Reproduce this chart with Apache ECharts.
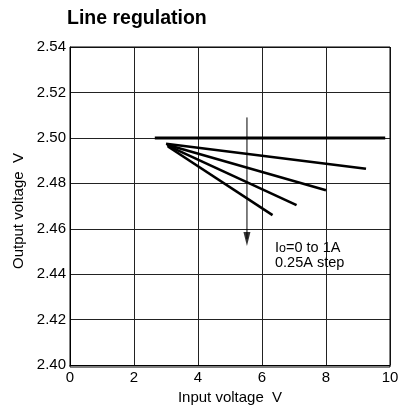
<!DOCTYPE html>
<html>
<head>
<meta charset="utf-8">
<script src="https://cdn.jsdelivr.net/npm/echarts@6/dist/echarts.min.js"></script>
<style>
  html, body { margin: 0; padding: 0; background: #fff; }
  #chart { width: 407px; height: 410px; }
</style>
</head>
<body>
<div id="chart"></div>
<script>
// Axis ticks
const xTicks = [0, 2, 4, 6, 8, 10];
const yTicks = [2.40, 2.42, 2.44, 2.46, 2.48, 2.50, 2.52, 2.54];

// Output voltage vs. input voltage, Io = 0 A (flat) and 0.25 A .. 1 A steps
const curveIo0    = [[2.65, 2.500], [9.85, 2.500]];
const curveIo025  = [[3.00, 2.4974], [9.25, 2.4864]];
const curveIo050  = [[3.03, 2.4970], [8.00, 2.4769]];
const curveIo075  = [[3.05, 2.4966], [7.08, 2.4704]];
const curveIo100  = [[3.06, 2.4962], [6.33, 2.4660]];

// Arrow showing increasing load current: shaft top, arrowhead centre
const arrowX = [5.53];
const arrowY = [2.509, 2.4555];

const FONT = 'Liberation Sans, Arial, sans-serif';
const chart = echarts.init(document.getElementById('chart'), null, { renderer: 'canvas' });

const lineSeries = (data, width) => ({
  type: 'line',
  data: data,
  symbol: 'none',
  silent: true,
  lineStyle: { color: '#000', width: width },
  z: 5
});

chart.setOption({
  animation: false,
  backgroundColor: '#fff',
  title: {
    text: 'Line regulation',
    left: 62,
    top: 4,
    textStyle: { fontFamily: FONT, fontSize: 19.5, fontWeight: 'bold', color: '#000' }
  },
  grid: { left: 70, top: 47, width: 320, height: 320, show: false },
  xAxis: {
    type: 'value',
    min: xTicks[0],
    max: xTicks[xTicks.length - 1],
    interval: xTicks[1] - xTicks[0],
    name: 'Input voltage  V',
    nameLocation: 'middle',
    nameGap: 22,
    nameTextStyle: { fontFamily: FONT, fontSize: 15, color: '#000' },
    axisLine: { show: true, lineStyle: { color: '#000', width: 1 } },
    axisTick: { show: false },
    axisLabel: { margin: 5, fontFamily: FONT, fontSize: 15, color: '#000' },
    splitLine: { show: true, lineStyle: { color: '#222', width: 1 } }
  },
  yAxis: {
    type: 'value',
    min: yTicks[0],
    max: yTicks[yTicks.length - 1],
    interval: 0.02,
    name: 'Output voltage  V',
    nameLocation: 'middle',
    nameRotate: 90,
    nameGap: 41,
    nameTextStyle: { fontFamily: FONT, fontSize: 15, color: '#000', padding: [0, 10, 0, 0] },
    axisLine: { show: true, lineStyle: { color: '#000', width: 1 } },
    axisTick: { show: false },
    axisLabel: {
      margin: 4, fontFamily: FONT, fontSize: 15, color: '#000',
      formatter: v => v.toFixed(2)
    },
    splitLine: { show: true, lineStyle: { color: '#222', width: 1 } }
  },
  graphic: [
    {
      type: 'rect',
      shape: { x: 70, y: 47, width: 320, height: 320 },
      style: { fill: 'none', stroke: '#000', lineWidth: 1 },
      silent: true, z: 10
    },
    {
      type: 'text',
      left: 275,
      top: 240,
      style: {
        text: '{a|I}{b|o}{a|=0 to 1A}\n{a|0.25A step}',
        fill: '#000',
        rich: {
          a: { fontFamily: FONT, fontSize: 14.5, lineHeight: 15, verticalAlign: 'bottom' },
          b: { fontFamily: FONT, fontSize: 12.5, lineHeight: 15, verticalAlign: 'bottom' }
        }
      },
      z: 10
    }
  ],
  series: [
    lineSeries(curveIo0, 3),
    lineSeries(curveIo025, 2.6),
    lineSeries(curveIo050, 2.6),
    lineSeries(curveIo075, 2.6),
    lineSeries(curveIo100, 2.6),
    // arrow shaft
    {
      type: 'line',
      data: [[arrowX[0], arrowY[0]], [arrowX[0], arrowY[1]]],
      symbol: 'none',
      silent: true,
      lineStyle: { color: '#000', width: 1 },
      z: 6
    },
    // arrowhead
    {
      type: 'scatter',
      data: [[arrowX[0], arrowY[1]]],
      symbol: 'triangle',
      symbolSize: [7, 14],
      symbolRotate: 180,
      silent: true,
      itemStyle: { color: '#000' },
      z: 7
    }
  ]
});
</script>
</body>
</html>
